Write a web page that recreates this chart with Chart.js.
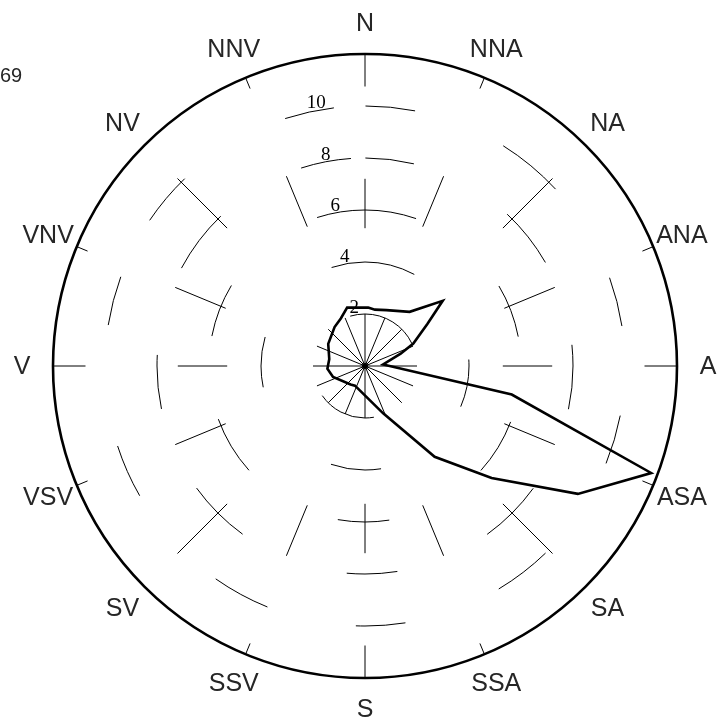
<!DOCTYPE html>
<html>
<head>
<meta charset="utf-8">
<script src="https://cdn.jsdelivr.net/npm/chart.js@4.4.1/dist/chart.umd.min.js"></script>
<style>
  html, body { margin: 0; padding: 0; background: #fff; }
  #wrap { width: 717px; height: 720px; position: relative; }
</style>
</head>
<body>
<div id="wrap"><canvas id="rose"></canvas></div>
<script>
// compass points, clockwise from north
const directions = ['N', 'NNA', 'NA', 'ANA', 'A', 'ASA', 'SA', 'SSA', 'S', 'SSV', 'SV', 'VSV', 'V', 'VNV', 'NV', 'NNV'];

// outline of the rose: bearing (deg from north) and radial value
const bearings = [3, 10, 21, 39.5, 50, 56, 65, 71, 85, 101, 110.5, 121, 131.5, 142.5, 159, 207, 218, 251, 266, 281, 301, 322, 333, 343];
const values   = [2.25, 2.2, 2.3, 2.7, 3.9, 2.9, 2.05, 1.45, 0.7, 5.75, 11.75, 9.55, 6.5, 4.4, 1.95, 0.85, 0.9, 1.3, 1.45, 1.4, 1.65, 1.9, 2.05, 2.35];

const ringTicks = [2, 4, 6, 8, 10];
const cornerText = '69';

// angular resolution of the category axis
const STEP = 0.5;
const SLOTS = 360 / STEP;
const PER_DIR = SLOTS / directions.length;

const labels = [];
for (let i = 0; i < SLOTS; i++) labels.push(i % PER_DIR === 0 ? directions[i / PER_DIR] : '');

const series = new Array(SLOTS).fill(null);
bearings.forEach((b, i) => {
  series[Math.round((((b % 360) + 360) % 360) / STEP) % SLOTS] = values[i];
});

// dashed look of the old plot: visible arc pieces per ring (compass degrees)
const ringArcs = {
  2:  [[-17, 64], [170, 235]],
  4:  [[-19, 28], [86, 113], [171, 199], [258, 286]],
  6:  [[-18, 19], [59, 79], [111, 132], [171, 190], [228, 250], [281, 301]],
  8:  [[-18, -4], [0, 13.5], [43, 60], [84, 102], [126, 144], [171, 185], [216, 234], [258, 273], [298, 316]],
  10: [[-18, -7], [0, 11], [32, 47], [70, 81], [101, 112], [136, 149], [171, 182], [202, 215], [240, 252], [279, 290], [304, 316]]
};
// visible pieces along the spokes (in axis units)
const spokeCardinal = [[0, 2], [5.3, 7.2], [10.75, 12]];
const spokeDiagonal = [[0, 2], [7.5, 10.2]];
const spokeOther    = [[0, 2], [5.8, 7.9], [11.55, 12]];

function arcDash(arcs, radius) {
  const k = radius * Math.PI / 180;
  const segs = arcs.map(([a, b]) => {
    const s = (((a - 90) % 360) + 360) % 360;   // canvas arcs start at east
    return [s, s + (b - a)];
  }).sort((p, q) => p[0] - q[0]);
  const dash = [];
  segs.forEach(([s, e], i) => {
    const next = i + 1 < segs.length ? segs[i + 1][0] : segs[0][0] + 360;
    dash.push((e - s) * k, (next - e) * k);
  });
  return { dash, offset: -segs[0][0] * k };
}

function segDash(segs, k) {
  const arr = [];
  let pos = 0;
  for (const [a, b] of segs) {
    if (arr.length) arr.push((a - pos) * k);
    else if (a > 0) arr.push(0, a * k);
    arr.push((b - a) * k);
    pos = b;
  }
  arr.push(2000);
  return arr;
}

function ringStyle(ctx) {
  const v = ctx.tick ? ctx.tick.value : 0;
  const arcs = ringArcs[v];
  if (!arcs) return { dash: [], offset: 0 };
  const r = ctx.chart.scales.r.getDistanceFromCenterForValue(v);
  return arcDash(arcs, r);
}

function spokeDash(ctx) {
  const d = Math.round(ctx.index / PER_DIR);
  const k = ctx.chart.scales.r.drawingArea / 12;
  const segs = d % 4 === 0 ? spokeCardinal : (d % 2 === 0 ? spokeDiagonal : spokeOther);
  return segDash(segs, k);
}

const roseText = {
  id: 'roseText',
  afterDatasetsDraw(chart) {
    const s = chart.scales.r;
    const c = chart.ctx;
    c.save();
    // hub
    c.fillStyle = '#000';
    c.beginPath();
    c.arc(s.xCenter, s.yCenter, 3, 0, Math.PI * 2);
    c.fill();
    // compass labels
    c.font = '25px "Liberation Sans", Arial, sans-serif';
    c.fillStyle = '#262626';
    c.textAlign = 'center';
    c.textBaseline = 'middle';
    chart.data.labels.forEach((lab, i) => {
      if (!lab) return;
      const p = s.getPointPosition(i, s.drawingArea + 31);
      c.fillText(lab, p.x, p.y + 1);
    });
    // ring values
    c.font = '19px "Liberation Serif", "Times New Roman", serif';
    c.fillStyle = '#000';
    const idx = SLOTS - Math.round(10.5 / STEP);
    ringTicks.forEach(v => {
      const p = s.getPointPosition(idx, s.getDistanceFromCenterForValue(v) + 7);
      c.fillText(String(v), p.x, p.y);
    });
    // corner note
    c.font = '20px "Liberation Sans", Arial, sans-serif';
    c.fillStyle = '#262626';
    c.textAlign = 'left';
    c.fillText(cornerText, 0, 76);
    c.restore();
  }
};

new Chart(document.getElementById('rose'), {
  type: 'radar',
  data: {
    labels: labels,
    datasets: [{
      data: series,
      spanGaps: true,
      borderColor: '#000',
      borderWidth: 2.6,
      pointRadius: 0,
      pointHoverRadius: 0,
      fill: false,
      tension: 0
    }]
  },
  options: {
    responsive: true,
    maintainAspectRatio: false,
    animation: false,
    layout: { padding: { left: 53, top: 54, right: 40, bottom: 42 } },
    plugins: {
      legend: { display: false },
      tooltip: { enabled: false }
    },
    scales: {
      r: {
        min: 0,
        max: 12,
        ticks: { display: false, stepSize: 2 },
        pointLabels: { display: false },
        grid: {
          circular: true,
          color: '#000',
          lineWidth: ctx => (ctx.tick && ctx.tick.value === 12 ? 2.6 : 1)
        },
        border: {
          dash: ctx => ringStyle(ctx).dash,
          dashOffset: ctx => ringStyle(ctx).offset
        },
        angleLines: {
          color: '#000',
          lineWidth: ctx => (ctx.index % PER_DIR === 0 ? 1 : 0),
          borderDash: ctx => spokeDash(ctx)
        }
      }
    }
  },
  plugins: [roseText]
});
</script>
</body>
</html>
